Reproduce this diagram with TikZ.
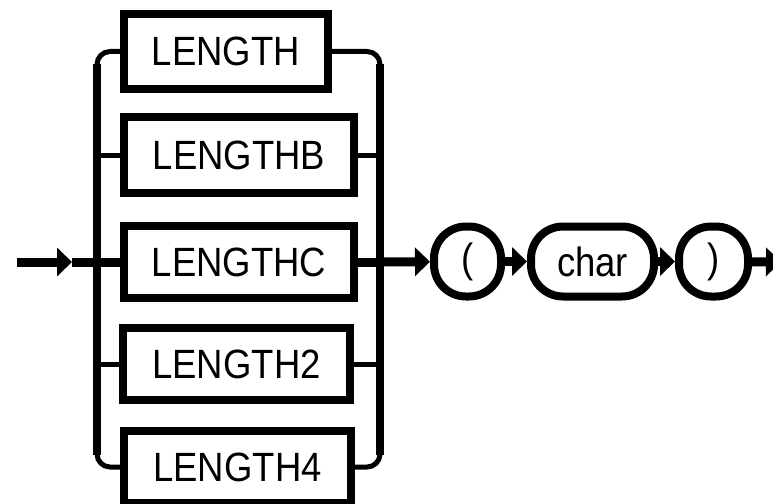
\documentclass[tikz,border=0pt]{standalone}
\usepackage{fontspec}
\usepackage{graphicx}
\setmainfont{Liberation Sans}
\usetikzlibrary{arrows.meta}
\newcommand{\tx}[1]{\scalebox{1}[1.12]{#1}}
\begin{document}
\begin{tikzpicture}[x=1pt,y=-1pt,
  kw/.style={draw, line width=8pt, rectangle, inner sep=0pt, minimum height=74pt, font=\fontsize{36.5}{40}\selectfont},
  term/.style={draw, line width=8pt, rounded corners=32pt, inner sep=0pt, minimum height=70pt, font=\fontsize{36.5}{40}\selectfont},
  main/.style={line width=9pt},
  thickrail/.style={line width=8pt},
  branch/.style={line width=5pt},
  arr/.style={-{Triangle[length=15pt,width=28pt]}}
]
\useasboundingbox (0,0) rectangle (773,503);

\node[kw, minimum width=204pt, minimum height=75pt] (l1) at (226,51.5) {\tx{LENGTH}};
\node[kw, minimum width=230pt, minimum height=76pt] (l2) at (239,155) {\tx{LENGTHB}};
\node[kw, minimum width=230pt, minimum height=72pt] (l3) at (239,262) {\tx{LENGTHC}};
\node[kw, minimum width=227pt, minimum height=72pt] (l4) at (236.5,364) {\tx{LENGTH2}};
\node[kw, minimum width=227pt, minimum height=72pt] (l5) at (237.5,467) {\tx{LENGTH4}};

\node[term, minimum width=67pt] (lp) at (467.5,261.5) {\tx{(}};
\node[term, minimum width=123pt] (ch) at (592.5,261.5) {\tx{char}};
\node[term, minimum width=69pt] (rp) at (713.5,261.5) {\tx{)}};

\coordinate (start) at (17,262);
\coordinate (tip) at (72,262);
\coordinate (jl) at (97,262);
\coordinate (jr) at (380,262);
\coordinate (end) at (781,262);

% rails
\draw[branch, rounded corners=13pt] (l1.west) -- (97,51.5) -- (97,467) -- (l5.west);
\draw[branch, rounded corners=13pt] (l1.east) -- (380,51.5) -- (380,467) -- (l5.east);
\draw[thickrail] (97,64) -- (97,455);
\draw[thickrail] (380,64) -- (380,455);

% branches
\draw[branch] (97,155) -- (l2.west);
\draw[branch] (l2.east) -- (380,155);
\draw[branch] (97,364) -- (l4.west);
\draw[branch] (l4.east) -- (380,364);

% main line
\draw[main, arr] (start) -- (tip);
\draw[main] (tip) -- (l3.west);
\draw[main] (l3.east) -- (jr);
\draw[main, arr] (jr) -- (lp);
\draw[main, arr] (lp) -- (ch);
\draw[main, arr] (ch) -- (rp);
\draw[main, arr] (rp) -- (end);
\end{tikzpicture}
\end{document}
